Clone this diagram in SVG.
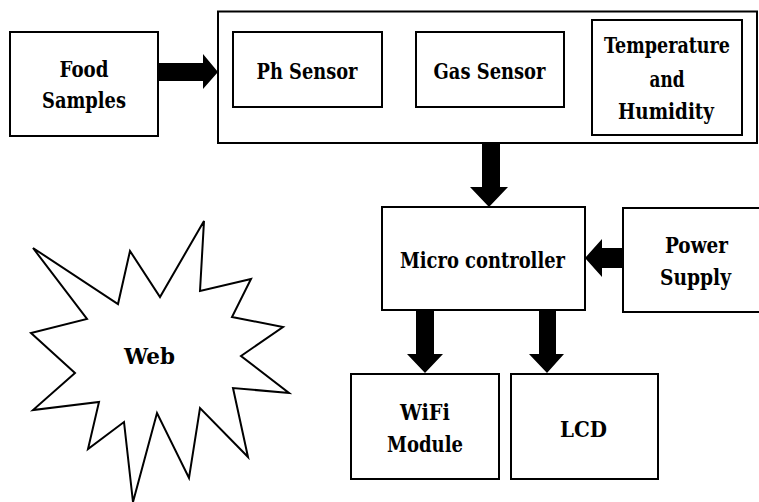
<svg xmlns="http://www.w3.org/2000/svg" width="759" height="502" viewBox="0 0 759 502">
<style>
.box{fill:#fff;stroke:#000;stroke-width:2}
.t{font-family:'DejaVu Serif',serif;font-weight:700;font-size:22px;fill:#000;text-anchor:middle}
.arr{fill:#000;stroke:none}
</style>
<rect width="759" height="502" fill="#fff"/>
<g id="food">
<rect class="box" x="10" y="32" width="148" height="104"/>
<text class="t" x="84" y="77" textLength="49" lengthAdjust="spacingAndGlyphs">Food</text>
<text class="t" x="84" y="108" textLength="84" lengthAdjust="spacingAndGlyphs">Samples</text>
</g>
<g id="sensors">
<rect class="box" x="218" y="11.5" width="539" height="131.5"/>
</g>
<g id="ph">
<rect class="box" x="233" y="32" width="149" height="75"/>
<text class="t" x="307" y="79" textLength="101" lengthAdjust="spacingAndGlyphs">Ph Sensor</text>
</g>
<g id="gas">
<rect class="box" x="416" y="32" width="148" height="75"/>
<text class="t" x="489.5" y="79" textLength="112" lengthAdjust="spacingAndGlyphs">Gas Sensor</text>
</g>
<g id="temp">
<rect class="box" x="592" y="20" width="150" height="115"/>
<text class="t" x="667" y="53" font-size="20" textLength="126" lengthAdjust="spacingAndGlyphs">Temperature</text>
<text class="t" x="667" y="87" textLength="35" lengthAdjust="spacingAndGlyphs">and</text>
<text class="t" x="666" y="119" textLength="96" lengthAdjust="spacingAndGlyphs">Humidity</text>
</g>
<g id="micro">
<rect class="box" x="382" y="207" width="203" height="103"/>
<text class="t" x="482.5" y="268" textLength="165" lengthAdjust="spacingAndGlyphs">Micro controller</text>
</g>
<g id="power">
<rect class="box" x="623" y="208" width="150" height="104"/>
<text class="t" x="696.5" y="253" textLength="63" lengthAdjust="spacingAndGlyphs">Power</text>
<text class="t" x="695.5" y="285" textLength="71" lengthAdjust="spacingAndGlyphs">Supply</text>
</g>
<g id="wifi">
<rect class="box" x="351" y="374" width="148" height="105"/>
<text class="t" x="425" y="420" textLength="50" lengthAdjust="spacingAndGlyphs">WiFi</text>
<text class="t" x="425" y="452" textLength="76" lengthAdjust="spacingAndGlyphs">Module</text>
</g>
<g id="lcd">
<rect class="box" x="511" y="374" width="147" height="105"/>
<text class="t" x="583.5" y="437" textLength="47" lengthAdjust="spacingAndGlyphs">LCD</text>
</g>
<g id="web">
<polygon class="box" points="204,221 200,291 251,279 232,317 283,327 241,356 289,393 233,388 248,457 200,408 189,478 157,413 133,502 124,422 88,449 99,402 33,410 75,373 31,333 87,319 33,248 118,304 130,251 160,297"/>
<text class="t" x="149.5" y="364" textLength="51" lengthAdjust="spacingAndGlyphs">Web</text>
</g>
<g id="connectors">
<polygon class="arr" points="158,63 203,63 203,54 218,72 203,89 203,81 158,81"/>
<polygon class="arr" points="482,143 500,143 500,187 508,187 489,207 470,187 482,187"/>
<polygon class="arr" points="623,248 602,248 602,239 585,258 602,277 602,268 623,268"/>
<polygon class="arr" points="416,310 434,310 434,354 443,354 425,373 407,354 416,354"/>
<polygon class="arr" points="539,310 556,310 556,354 564,354 547,373 529,354 539,354"/>
</g>
</svg>
